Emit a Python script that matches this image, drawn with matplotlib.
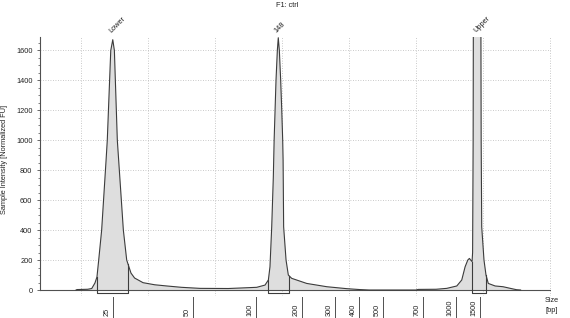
import matplotlib
matplotlib.use("Agg")
import matplotlib.pyplot as plt
import matplotlib.transforms as mtransforms
import numpy as np

# ---- data (migration time in s, fluorescence in FU) ----
time_s = [19.63, 19.7, 20.5, 20.8, 21.04, 21.19, 21.32, 21.54, 21.87, 21.96, 22.22, 22.37,
          22.49, 22.71, 22.81, 23.16, 23.41, 23.73, 24.0, 24.63, 25.5, 26.40, 27.5, 28.88,
          31.0, 33.11, 33.73, 33.98, 34.10, 34.23, 34.35, 34.41, 34.48, 34.55, 34.65, 34.72,
          34.80, 34.90, 34.98, 35.05, 35.08, 35.12, 35.30, 35.47, 35.72, 36.84, 38.34, 39.83,
          40.8, 41.5, 45.0, 45.15, 46.5, 47.29, 48.04, 48.41, 48.66, 48.86, 48.98, 49.08,
          49.18, 49.22, 49.26, 49.29, 49.55, 49.82, 49.86, 49.90, 50.07, 50.22, 50.39, 50.90,
          51.49, 52.14, 52.5, 52.8]
fu = [0, 3, 5, 10, 47, 87, 200, 400, 867, 1000, 1600, 1672,
      1600, 1000, 867, 400, 200, 113, 80, 49, 35, 27, 18, 11,
      10, 18, 33, 67, 155, 422, 755, 1000, 1200, 1400, 1600, 1685,
      1600, 1400, 1200, 1000, 867, 422, 200, 100, 78, 44, 22, 9,
      3, 0, 0, 4, 5, 11, 27, 67, 155, 200, 211, 200,
      190, 250, 1000, 2500, 3800, 2500, 1000, 422, 200, 100, 44, 27,
      22, 9, 2, 0]

peak_names = ["Lower", "148", "Upper"]
peak_times = [22.37, 34.72, 49.55]

box_starts = [21.19, 33.96, 49.18]
box_ends = [23.51, 35.52, 50.22]
box_depth = -22

size_labels = ["25", "50", "100", "200", "300", "400", "500", "700", "1000", "1500"]
size_times = [22.39, 28.36, 33.06, 36.49, 38.96, 40.75, 42.54, 45.52, 47.99, 49.78]

x_grid = [20, 25, 30, 35, 40, 45, 50, 55]
y_major = list(range(0, 1601, 200))
y_minor = list(range(0, 1651, 50))

FONT = "Liberation Sans"
FS = 5.3
TXT = "#222222"
DPI = 100
W, H = 570, 318

fig = plt.figure(figsize=(W / DPI, H / DPI), dpi=DPI)
ax_l, ax_r, ax_t, ax_b = 40, 551, 37, 296
ax = fig.add_axes([ax_l / W, (H - ax_b) / H, (ax_r - ax_l) / W, (ax_b - ax_t) / H])
ax.set_xlim(16.94, 55.07)
ax.set_ylim(-40, 1690)

# grid
for g in x_grid:
    ax.axvline(g, color="#b8b8b8", lw=0.6, ls=(0, (1, 2)), zorder=0)
for g in y_major[1:]:
    ax.axhline(g, color="#b8b8b8", lw=0.6, ls=(0, (1, 2)), zorder=0)

# curve
ax.fill_between(time_s, 0, fu, color="#dedede", lw=0, zorder=1)
ax.plot(time_s, fu, color="#3c3c3c", lw=0.8, zorder=3)
ax.axhline(0, color="#505050", lw=0.8, zorder=2)

# integration boxes
for s, e in zip(box_starts, box_ends):
    ys = np.interp(s, time_s, fu)
    ye = np.interp(e, time_s, fu)
    ax.plot([s, s, e, e], [ys, box_depth, box_depth, ye], color="#3c3c3c", lw=0.8, zorder=4)

# spines and ticks
for sp in ["top", "right", "bottom"]:
    ax.spines[sp].set_visible(False)
ax.spines["left"].set_bounds(0, 1690)
ax.spines["left"].set_color("#505050")
ax.spines["left"].set_linewidth(0.8)
ax.set_xticks([])
ax.set_yticks(y_major)
ax.set_yticks(y_minor, minor=True)
ax.set_yticklabels([str(v) for v in y_major], fontsize=FS, family=FONT, color=TXT)
ax.tick_params(axis="y", which="major", length=2.4, width=0.6, pad=3, colors="#505050",
               labelcolor=TXT)
ax.tick_params(axis="y", which="minor", length=1.2, width=0.5, colors="#505050")
ax.set_ylabel("Sample Intensity [Normalized FU]", fontsize=FS, family=FONT, color=TXT)
ax.yaxis.set_label_coords(8 / W, 0.5, transform=fig.transFigure)

# size tick marks below the axis
blend = mtransforms.blended_transform_factory(ax.transData, fig.transFigure)
lab_off = mtransforms.ScaledTranslation(-6 / DPI, 0, fig.dpi_scale_trans)
for lab, t in zip(size_labels, size_times):
    ax.plot([t, t], [(H - 297) / H, 0], transform=blend, color="#505050", lw=0.7,
            clip_on=False)
    ax.text(t, 1.5 / H, lab, transform=blend + lab_off, rotation=90, ha="center",
            va="bottom", fontsize=FS, family=FONT, color=TXT)

# peak labels
blend_top = mtransforms.blended_transform_factory(ax.transData, ax.transAxes)
pk_off = mtransforms.ScaledTranslation(0 / DPI, 3 / DPI, fig.dpi_scale_trans)
for name, t in zip(peak_names, peak_times):
    ax.text(t, 1.0, name, transform=blend_top + pk_off, rotation=45, rotation_mode="anchor",
            ha="left", va="bottom", fontsize=FS, family=FONT, color=TXT)

fig.text(287 / W, 1 - 5.5 / H, "F1: ctrl", ha="center", va="center", fontsize=FS,
         family=FONT, color=TXT)
fig.text(552 / W, 1 - 297 / H, "Size\n[bp]", ha="center", va="top", fontsize=FS,
         family=FONT, color=TXT, linespacing=1.5)

fig.savefig("out.png", dpi=DPI, facecolor="white")
